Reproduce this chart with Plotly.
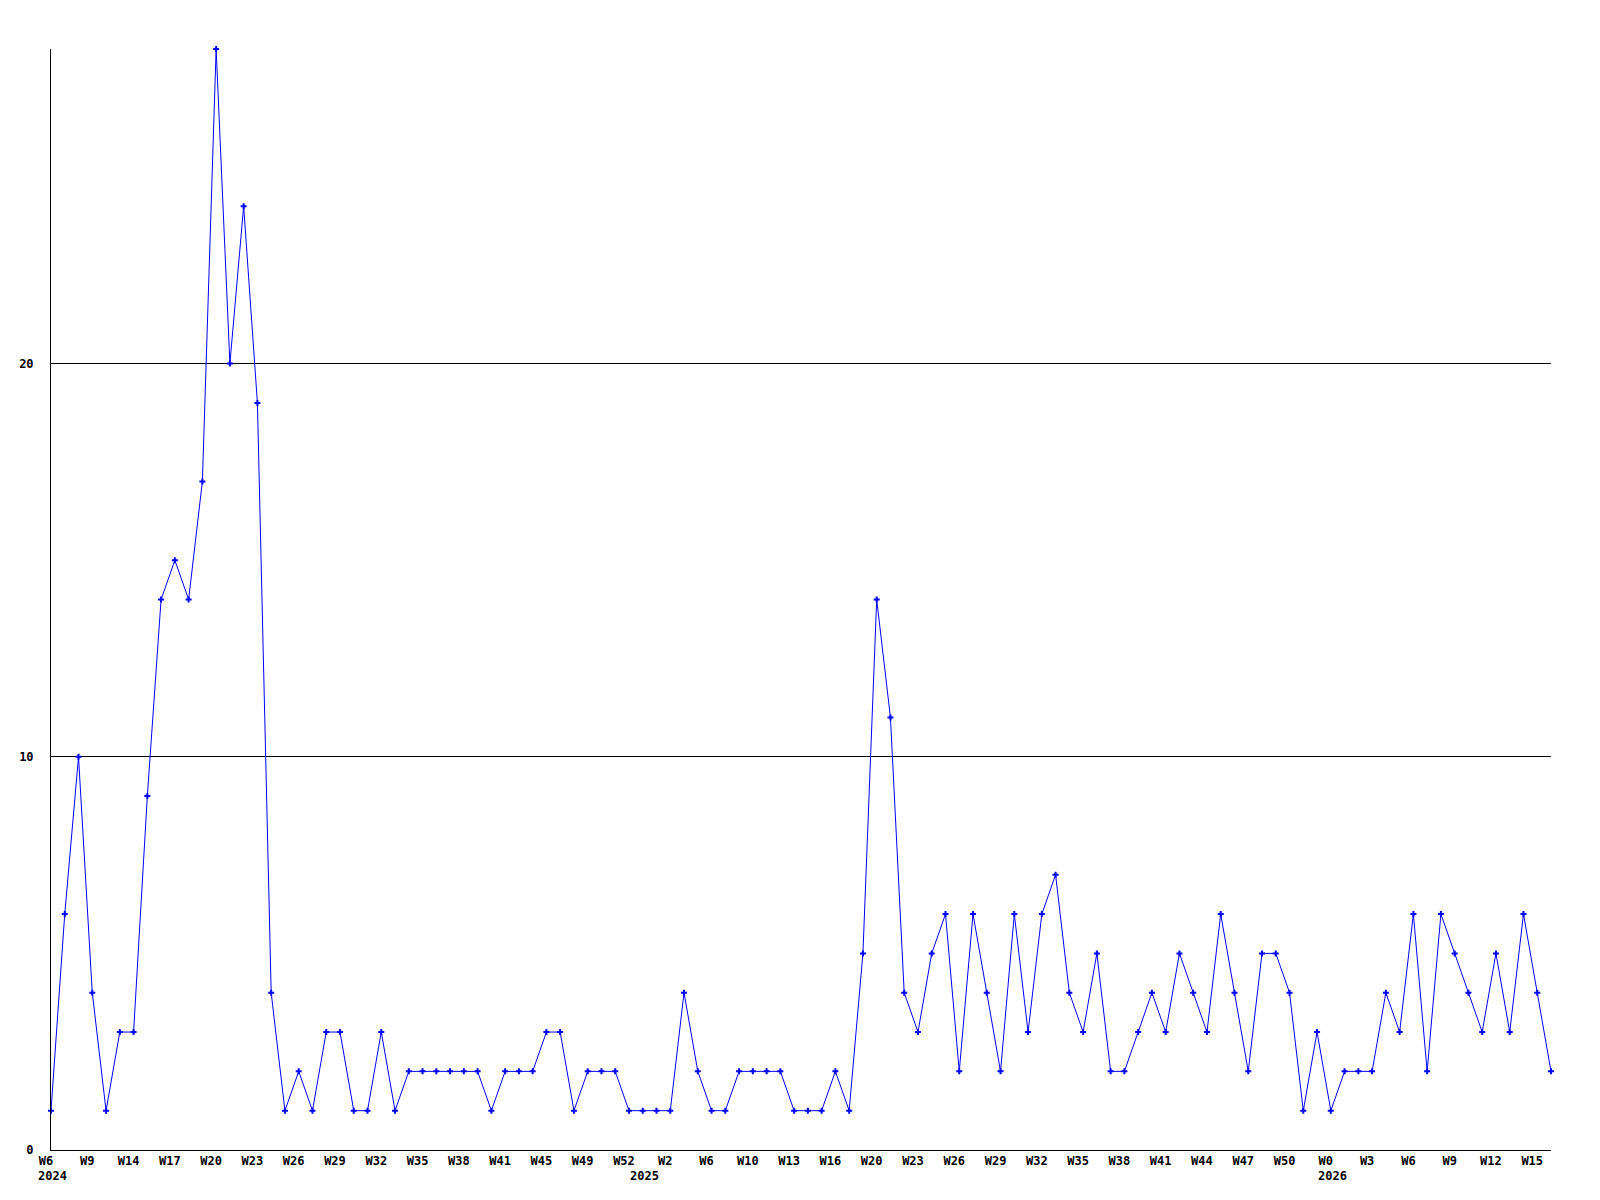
"""Weekly count line chart, 2024 W6 to 2026 W15."""
import plotly.graph_objects as go

# one value per plotted week
counts = [
    1, 6, 10, 4, 1, 3, 3, 9, 14, 15,
    14, 17, 28, 20, 24, 19, 4, 1, 2, 1,
    3, 3, 1, 1, 3, 1, 2, 2, 2, 2,
    2, 2, 1, 2, 2, 2, 3, 3, 1, 2,
    2, 2, 1, 1, 1, 1, 4, 2, 1, 1,
    2, 2, 2, 2, 1, 1, 1, 2, 1, 5,
    14, 11, 4, 3, 5, 6, 2, 6, 4, 2,
    6, 3, 6, 7, 4, 3, 5, 2, 2, 3,
    4, 3, 5, 4, 3, 6, 4, 2, 5, 5,
    4, 1, 3, 1, 2, 2, 2, 4, 3, 6,
    2, 6, 5, 4, 3, 5, 3, 6, 4, 2,
]

# a week label on every third point
week_labels = [
    "W6", "W9", "W14", "W17", "W20", "W23", "W26", "W29", "W32", "W35",
    "W38", "W41", "W45", "W49", "W52", "W2", "W6", "W10", "W13", "W16",
    "W20", "W23", "W26", "W29", "W32", "W35", "W38", "W41", "W44", "W47",
    "W50", "W0", "W3", "W6", "W9", "W12", "W15",
]
label_step = 3

# year labels and the point where each year starts
years = ["2024", "2025", "2026"]
year_starts = [0, 43, 93]

y_ticks = [0, 10, 20]

font = dict(family="DejaVu Sans Mono", size=12, color="black", weight="bold")

x = list(range(len(counts)))
tick_pos = [i * label_step for i in range(len(week_labels))]

fig = go.Figure()
fig.add_trace(
    go.Scatter(
        x=x,
        y=counts,
        mode="lines+markers",
        line=dict(color="#0000ff", width=1),
        marker=dict(symbol="cross", size=5, color="#0000ff"),
        cliponaxis=False,
        hoverinfo="skip",
    )
)

for year, start in zip(years, year_starts):
    fig.add_annotation(
        x=start, y=0, yref="paper",
        text=year, showarrow=False,
        xanchor="left", yanchor="top",
        xshift=-15, yshift=-17,
        font=font,
    )

# the page body adds 8px, so margins are set 8px short on left/top
fig.update_layout(
    width=1600,
    height=1200,
    margin=dict(l=43, r=57, t=41, b=58),
    paper_bgcolor="white",
    plot_bgcolor="white",
    showlegend=False,
    hovermode=False,
)
fig.update_xaxes(
    range=[0, len(counts) - 1],
    tickvals=tick_pos,
    ticktext=week_labels,
    tickfont=font,
    ticks="",
    ticklabelshift=-5,
    ticklabelstandoff=0,
    showgrid=False,
    zeroline=False,
    showline=True,
    linecolor="black",
    linewidth=1,
)
fig.update_yaxes(
    range=[0, 28],
    tickvals=y_ticks,
    tickfont=font,
    ticks="",
    ticklabelstandoff=14,
    showgrid=True,
    gridcolor="black",
    gridwidth=1,
    zeroline=False,
    showline=True,
    linecolor="black",
    linewidth=1,
)

fig.write_html("out.html")
